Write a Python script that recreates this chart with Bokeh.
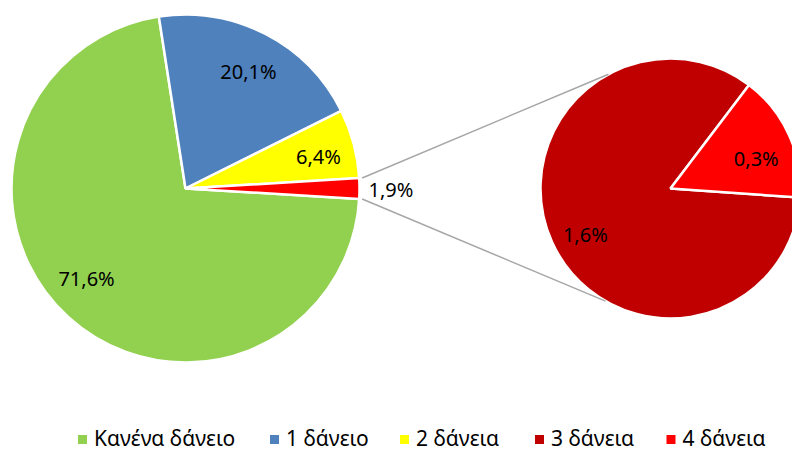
import numpy as np
from bokeh.plotting import figure
from bokeh.models import Range1d
from bokeh.core.properties import value
from bokeh.embed import file_html
from bokeh.resources import INLINE

# ---- data ----
main_labels = ["Κανένα δάνειο", "1 δάνειο", "2 δάνεια", "Λοιπά"]
main_values = [71.6, 20.1, 6.4, 1.9]
main_colors = ["#92D050", "#4F81BD", "#FFFF00", "#FF0000"]
second_labels = ["3 δάνεια", "4 δάνεια"]
second_values = [1.6, 0.3]
second_colors = ["#C00000", "#FF0000"]
legend_labels = ["Κανένα δάνειο", "1 δάνειο", "2 δάνεια", "3 δάνεια", "4 δάνεια"]
legend_colors = ["#92D050", "#4F81BD", "#FFFF00", "#C00000", "#FF0000"]

def fmt(v):
    return f"{v:.1f}".replace(".", ",") + "%"

FONT = "Noto Sans"
W, H = 792, 452
p = figure(width=W, height=H, x_range=Range1d(0, W), y_range=Range1d(0, H),
           output_backend="svg", toolbar_location=None, min_border=0)
p.axis.visible = False
p.grid.visible = False
p.outline_line_color = None

def Y(y):  # reference pixel row -> data y (up)
    return H - y

# ---- main pie ----
cx, cy, r = 185, Y(188), 174
total = sum(main_values)
frac = [v / total * 2 * np.pi for v in main_values]
# "other" slice centred at 3 o'clock, then anticlockwise: 2, 1, none
order = [3, 2, 1, 0]
starts, ends = [0] * 4, [0] * 4
a = -frac[3] / 2
for i in order:
    starts[i] = a
    ends[i] = a + frac[i]
    a += frac[i]
p.wedge(x=[cx] * 4, y=[cy] * 4, radius=r, start_angle=starts, end_angle=ends,
        fill_color=main_colors, line_color="white", line_width=2.5)

# label placement tweaks (degrees, radius fraction)
main_lab_dang = [-5.3, -0.9, -1.6]
main_lab_rf = [0.77, 0.765, 0.785]
mids = [(s + e) / 2 for s, e in zip(starts, ends)]
lx, ly, lt = [], [], []
for i in range(3):
    ang = mids[i] + np.deg2rad(main_lab_dang[i])
    lx.append(cx + main_lab_rf[i] * r * np.cos(ang))
    ly.append(cy + main_lab_rf[i] * r * np.sin(ang))
    lt.append(fmt(main_values[i]))
p.text(x=lx, y=ly, text=lt, text_align="center", text_baseline="middle",
       text_font=value(FONT), text_font_size=value("20px"), text_color="black")
p.text(x=[cx + r + 9], y=[cy - 1], text=[fmt(main_values[3])], text_align="left",
       text_baseline="middle", text_font=value(FONT), text_font_size=value("20px"),
       text_color="black")

# ---- second pie ----
sx, sy, sr = 670, Y(188), 130
stot = sum(second_values)
sfrac = [v / stot * 2 * np.pi for v in second_values]
s_red_start = np.deg2rad(-4)
s_starts = [s_red_start + sfrac[1], s_red_start]
s_ends = [s_red_start + sfrac[1] + sfrac[0], s_red_start + sfrac[1]]
p.wedge(x=[sx] * 2, y=[sy] * 2, radius=sr, start_angle=s_starts, end_angle=s_ends,
        fill_color=second_colors, line_color="white", line_width=2.5)
sec_lab_dang = [4.0, -4.9]
sec_lab_rf = [0.745, 0.70]
smids = [(s + e) / 2 + np.deg2rad(d) for s, e, d in zip(s_starts, s_ends, sec_lab_dang)]
p.text(x=[sx + f * sr * np.cos(m) for m, f in zip(smids, sec_lab_rf)],
       y=[sy + f * sr * np.sin(m) for m, f in zip(smids, sec_lab_rf)],
       text=[fmt(v) for v in second_values], text_align="center", text_baseline="middle",
       text_font=value(FONT), text_font_size=value("20px"), text_color="black")

# ---- connector lines ----
ha = frac[3] / 2
for ang_main, ang_sec in [(ha, np.deg2rad(118.5)), (-ha, np.deg2rad(-120))]:
    x0 = cx + (r + 3) * np.cos(ang_main)
    y0 = cy + (r + 3) * np.sin(ang_main)
    x1 = sx + sr * np.cos(ang_sec)
    y1 = sy + sr * np.sin(ang_sec)
    p.line(x=[x0, x1], y=[y0, y1], line_color="#A6A6A6", line_width=1.5)

# ---- legend ----
leg_sq_x = [82, 274, 404, 539, 670.5]
p.rect(x=leg_sq_x, y=[Y(439)] * 5, width=9, height=9, fill_color=legend_colors, line_color=None)
p.text(x=[x + 11.5 for x in leg_sq_x], y=[Y(437.5)] * 5, text=legend_labels, text_align="left",
       text_baseline="middle", text_font=value(FONT), text_font_size=value("21px"),
       text_color="black")

open("out.html", "w").write(file_html(p, INLINE))
